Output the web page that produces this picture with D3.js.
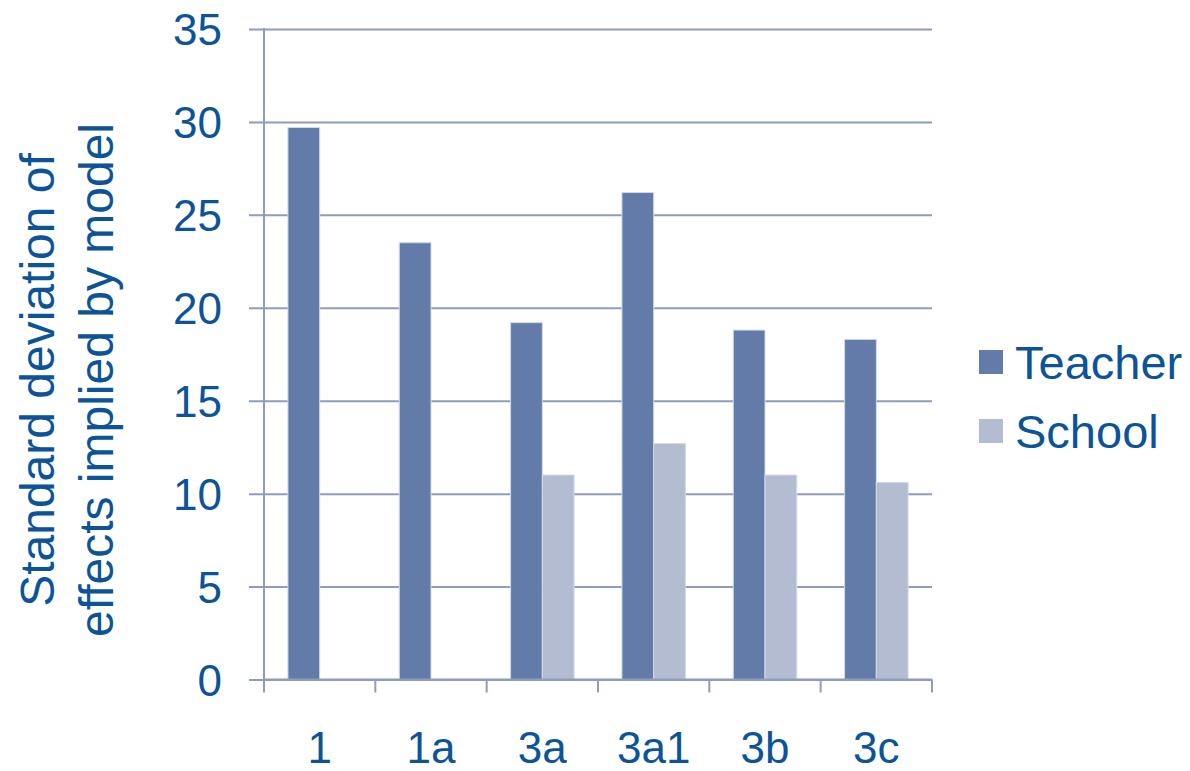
<!DOCTYPE html>
<html>
<head>
<meta charset="utf-8">
<script src="https://cdn.jsdelivr.net/npm/d3@7"></script>
<style>
  body { margin: 0; background: #fff; }
  text { font-family: "Liberation Sans", Arial, sans-serif; fill: #0C5497; }
</style>
</head>
<body>
<div id="chart"></div>
<script>
// data
var models = ['1', '1a', '3a', '3a1', '3b', '3c'];
var teacher = [29.7, 23.5, 19.2, 26.2, 18.8, 18.3];
var school = [null, null, 11.0, 12.7, 11.0, 10.6];
var seriesNames = ['Teacher', 'School'];
var yTicks = [0, 5, 10, 15, 20, 25, 30, 35];

var width = 1190, height = 771,
    plotLeft = 264, plotRight = 932, plotTop = 29, plotBottom = 679.5,
    teacherFill = '#637BA8',
    schoolFill = '#B3BCD0',
    gridColor = '#8E9CC0';

var svg = d3.select('#chart').append('svg')
    .attr('width', width)
    .attr('height', height);

var x = d3.scaleBand().domain(models).range([plotLeft, plotRight]).padding(0);
var inner = d3.scaleBand().domain(seriesNames)
    .range([x.bandwidth() * 0.215, x.bandwidth() * 0.785]);
var y = d3.scaleLinear().domain([0, 35]).range([plotBottom, plotTop]);

// gridlines plus little ticks left of the axis
svg.append('g')
    .attr('transform', 'translate(' + plotRight + ',0)')
    .call(d3.axisLeft(y).tickValues(yTicks).tickSize(plotRight - plotLeft + 15).tickFormat(''))
    .call(function (g) {
        g.select('.domain').remove();
        g.selectAll('line').attr('stroke', gridColor).attr('stroke-width', 2);
    });

// y tick labels
svg.append('g')
    .selectAll('text')
    .data(yTicks)
    .enter().append('text')
    .attr('x', 222)
    .attr('y', function (d) { return y(d) + 16; })
    .attr('text-anchor', 'end')
    .attr('font-size', 44)
    .text(function (d) { return d; });

// bars
var rows = models.map(function (m, i) {
    return { model: m, values: [
        { s: 'Teacher', v: teacher[i] },
        { s: 'School', v: school[i] }
    ] };
});

var groups = svg.append('g').selectAll('g')
    .data(rows)
    .enter().append('g')
    .attr('transform', function (d) { return 'translate(' + x(d.model) + ',0)'; });

groups.selectAll('rect')
    .data(function (d) { return d.values.filter(function (v) { return v.v != null; }); })
    .enter().append('rect')
    .attr('x', function (d) { return inner(d.s); })
    .attr('width', inner.bandwidth())
    .attr('y', function (d) { return y(d.v); })
    .attr('height', function (d) { return y(0) - y(d.v); })
    .attr('fill', function (d) { return d.s === 'Teacher' ? teacherFill : schoolFill; })
    .attr('stroke', '#D3D9E6')
    .attr('stroke-width', 1);

// y axis line
svg.append('line')
    .attr('x1', plotLeft).attr('x2', plotLeft)
    .attr('y1', plotTop - 1).attr('y2', plotBottom)
    .attr('stroke', gridColor).attr('stroke-width', 2);

// x axis with ticks at band edges
svg.append('line')
    .attr('x1', plotLeft).attr('x2', plotRight)
    .attr('y1', plotBottom).attr('y2', plotBottom)
    .attr('stroke', gridColor).attr('stroke-width', 2);

var edges = models.map(function (m) { return x(m); }).concat([plotRight]);
svg.append('g').selectAll('line')
    .data(edges)
    .enter().append('line')
    .attr('x1', function (d) { return d; })
    .attr('x2', function (d) { return d; })
    .attr('y1', plotBottom)
    .attr('y2', plotBottom + 13)
    .attr('stroke', gridColor).attr('stroke-width', 2);

svg.append('g').selectAll('text')
    .data(models)
    .enter().append('text')
    .attr('x', function (d) { return x(d) + x.bandwidth() / 2; })
    .attr('y', 763)
    .attr('text-anchor', 'middle')
    .attr('font-size', 44)
    .text(function (d) { return d; });

// y axis title, two lines
var title = svg.append('text')
    .attr('transform', 'translate(54,380) rotate(-90)')
    .attr('text-anchor', 'middle')
    .attr('font-size', 48);
title.append('tspan').attr('x', 0).attr('dy', 0).text('Standard deviation of');
title.append('tspan').attr('x', 0).attr('dy', 59).text('effects implied by model');

// legend
var legend = svg.append('g').selectAll('g')
    .data(seriesNames)
    .enter().append('g')
    .attr('transform', function (d, i) { return 'translate(979,' + (350 + i * 69) + ')'; });

legend.append('rect')
    .attr('width', 24).attr('height', 24)
    .attr('fill', function (d) { return d === 'Teacher' ? teacherFill : schoolFill; });

legend.append('text')
    .attr('x', 36)
    .attr('y', 29)
    .attr('font-size', 47)
    .text(function (d) { return d; });
</script>
</body>
</html>
